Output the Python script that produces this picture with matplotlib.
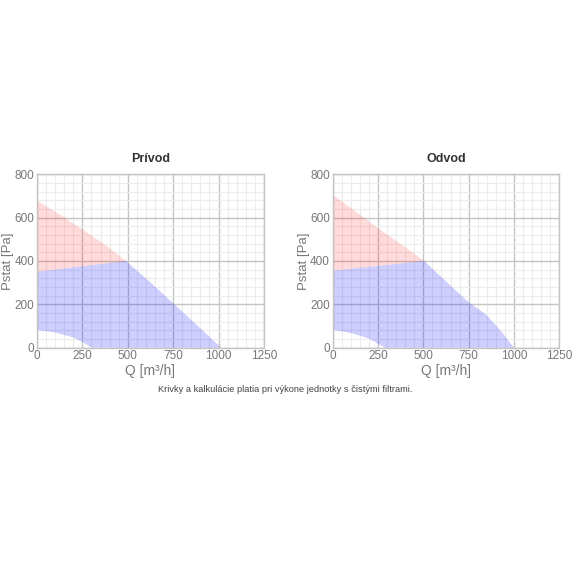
import matplotlib
matplotlib.use("Agg")
import matplotlib.pyplot as plt
from matplotlib.ticker import MultipleLocator

# Data (Q in m3/h, Pstat in Pa)
titles = ["Prívod", "Odvod"]

# Prívod
p_red_top_q = [0, 125, 250, 375, 490]
p_red_top_p = [678, 615, 545, 475, 400]
p_lim_q = [0, 490]
p_lim_p = [350, 400]
p_blue_right_q = [490, 620, 750, 880, 1000, 1010]
p_blue_right_p = [400, 305, 205, 105, 12, 0]
p_low_q = [0, 100, 200, 250, 300]
p_low_p = [82, 70, 47, 27, 0]

# Odvod
o_red_top_q = [0, 125, 250, 375, 505]
o_red_top_p = [705, 630, 552, 478, 400]
o_lim_q = [0, 505]
o_lim_p = [355, 400]
o_blue_right_q = [505, 630, 750, 850, 930, 1000]
o_blue_right_p = [400, 302, 210, 150, 75, 0]
o_low_q = [0, 100, 200, 250, 290]
o_low_p = [82, 68, 42, 18, 0]

xticks = [0, 250, 500, 750, 1000, 1250]
yticks = [0, 200, 400, 600, 800]
caption = "Krivky a kalkulácie platia pri výkone jednotky s čistými filtrami."

plt.rcParams['font.family'] = ['Liberation Sans', 'DejaVu Sans']

fig = plt.figure(figsize=(5.76, 5.76), dpi=100)
axes = [fig.add_axes([0.0642, 0.3964, 0.394, 0.301]),
        fig.add_axes([0.5776, 0.3964, 0.3934, 0.301])]

datasets = [
    (p_red_top_q, p_red_top_p, p_lim_q, p_lim_p, p_blue_right_q, p_blue_right_p, p_low_q, p_low_p),
    (o_red_top_q, o_red_top_p, o_lim_q, o_lim_p, o_blue_right_q, o_blue_right_p, o_low_q, o_low_p),
]

for ax, title, d in zip(axes, titles, datasets):
    rtq, rtp, lq, lp, brq, brp, loq, lop = d
    red_x = list(rtq) + list(lq[::-1])
    red_y = list(rtp) + list(lp[::-1])
    ax.fill(red_x, red_y, color=(1.0, 0.0, 0.0), alpha=0.14, lw=0, zorder=2)
    blue_x = list(lq) + list(brq[1:]) + list(loq[::-1])
    blue_y = list(lp) + list(brp[1:]) + list(lop[::-1])
    ax.fill(blue_x, blue_y, color=(0.0, 0.0, 1.0), alpha=0.19, lw=0, zorder=2)

    ax.set_xlim(0, 1250)
    ax.set_ylim(0, 800)
    ax.set_xticks(xticks)
    ax.set_yticks(yticks)
    ax.xaxis.set_minor_locator(MultipleLocator(50))
    ax.yaxis.set_minor_locator(MultipleLocator(40))
    ax.grid(which='major', color='#c4c4c4', lw=1.0, zorder=1)
    ax.grid(which='minor', color='#ececec', lw=0.8, zorder=0)
    ax.set_axisbelow(True)
    ax.tick_params(which='both', length=0, labelsize=8.5, labelcolor='#777777', pad=2)
    for s in ax.spines.values():
        s.set_color('#c4c4c4')
        s.set_linewidth(1.0)
    ax.set_xlabel("Q [m³/h]", fontsize=10, color='#777777', labelpad=1)
    ax.set_ylabel("Pstat [Pa]", fontsize=9.5, color='#777777', labelpad=0)
    ax.set_title(title, fontsize=9, fontweight='bold', color='#333333', pad=9)

fig.text(0.495, 0.324, caption, ha='center', va='center', fontsize=6.7, color='#444444')

fig.savefig("out.png", dpi=100, facecolor='white')
